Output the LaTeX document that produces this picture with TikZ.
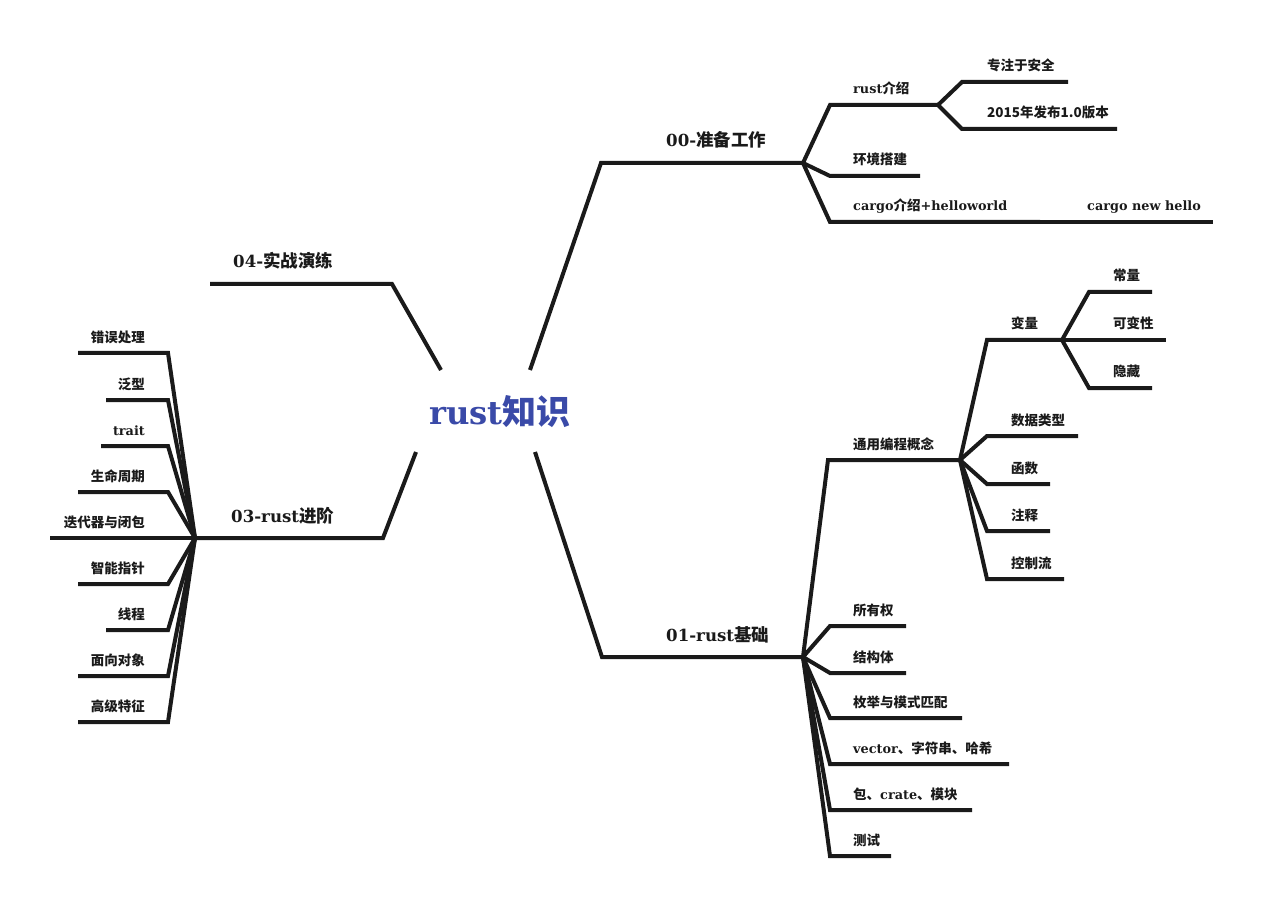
\documentclass[tikz,border=0pt]{standalone}
\usepackage{fontspec}
\setmainfont{Noto Sans CJK SC}
\newfontfamily\slab{DejaVu Serif}[Scale=0.95]
\definecolor{linec}{HTML}{1A1A1A}
\definecolor{rootc}{HTML}{3A4AA8}
\tikzset{
  br/.style={line width=4pt, draw=linec, line join=miter},
  lbl/.style={font=\fontsize{13.5}{16}\selectfont\bfseries, inner sep=0pt, text=linec},
  big/.style={font=\fontsize{17.5}{20}\selectfont\bfseries, inner sep=0pt, text=linec},
}
% #1 name, #2 parent, #3 knee, #4 end, #5 label anchor, #6 label pos, #7 style, #8 text
\newcommand\mmb[8]{%
  \coordinate (#1k) at (#3);
  \coordinate (#1) at (#4);
  \draw[br] (#2) -- (#1k) -- (#1);
  \node[#7, anchor=#5] (#1t) at (#6) {#8};}
\begin{document}
\begin{tikzpicture}[x=1pt,y=-1pt]
\useasboundingbox (0,0) rectangle (1264,909);
\node[font=\fontsize{34}{38}\selectfont\bfseries, text=rootc, inner sep=0pt] (root) at (500,412) {{\slab rust}知识};
\coordinate (s00) at (530,370);
\coordinate (s01) at (535,452);
\coordinate (s04) at (441,370);
\coordinate (s03) at (416,452);
% 00
\mmb{a}{s00}{601,163}{803,163}{base west}{666,147}{big}{{\slab 00-}准备工作}
\mmb{aa}{a}{830,105}{938,105}{base west}{853,94}{lbl}{{\slab rust}介绍}
\mmb{aaa}{aa}{962,82}{1068,82}{base west}{987,71}{lbl}{专注于安全}
\mmb{aab}{aa}{962,129}{1117,129}{base west}{987,118}{lbl}{2015年发布1.0版本}
\mmb{ab}{a}{830,176}{920,176}{base west}{853,165}{lbl}{环境搭建}
\mmb{ac}{a}{830,222}{1040,222}{base west}{853,211}{lbl}{{\slab cargo}介绍{\slab +helloworld}}
\mmb{aca}{ac}{1064,222}{1213,222}{base west}{1087,211}{lbl}{\slab cargo new hello}
% 01
\mmb{b}{s01}{602,657}{803,657}{base west}{666,641}{big}{{\slab 01-rust}基础}
\mmb{ba}{b}{828,460}{960,460}{base west}{853,449}{lbl}{通用编程概念}
\mmb{baa}{ba}{987,340}{1062,340}{base west}{1011,329}{lbl}{变量}
\mmb{baaa}{baa}{1089,292}{1152,292}{base west}{1113,281}{lbl}{常量}
\mmb{baab}{baa}{1089,340}{1166,340}{base west}{1113,329}{lbl}{可变性}
\mmb{baac}{baa}{1089,388}{1152,388}{base west}{1113,377}{lbl}{隐藏}
\mmb{bab}{ba}{987,436}{1078,436}{base west}{1011,425}{lbl}{数据类型}
\mmb{bac}{ba}{987,484}{1050,484}{base west}{1011,473}{lbl}{函数}
\mmb{bad}{ba}{987,531}{1050,531}{base west}{1011,520}{lbl}{注释}
\mmb{bae}{ba}{987,579}{1064,579}{base west}{1011,568}{lbl}{控制流}
\mmb{bb}{b}{830,626}{906,626}{base west}{853,615}{lbl}{所有权}
\mmb{bc}{b}{830,673}{906,673}{base west}{853,662}{lbl}{结构体}
\mmb{bd}{b}{830,718}{962,718}{base west}{853,707}{lbl}{枚举与模式匹配}
\mmb{be}{b}{830,764}{1009,764}{base west}{853,753}{lbl}{{\slab vector}、字符串、哈希}
\mmb{bf}{b}{830,810}{972,810}{base west}{853,799}{lbl}{包、{\slab crate}、模块}
\mmb{bg}{b}{830,856}{891,856}{base west}{853,845}{lbl}{测试}
% 04
\mmb{d}{s04}{392,284}{210,284}{base west}{233,268}{big}{{\slab 04-}实战演练}
% 03
\mmb{c}{s03}{383,538}{195,538}{base west}{231,522}{big}{{\slab 03-rust}进阶}
\mmb{ca}{c}{168,353}{78,353}{base east}{145,342}{lbl}{错误处理}
\mmb{cb}{c}{168,400}{106,400}{base east}{145,389}{lbl}{泛型}
\mmb{cc}{c}{168,446}{101,446}{base east}{145,435}{lbl}{\slab trait}
\mmb{cd}{c}{168,492}{78,492}{base east}{145,481}{lbl}{生命周期}
\mmb{ce}{c}{168,538}{50,538}{base east}{145,527}{lbl}{迭代器与闭包}
\mmb{cf}{c}{168,584}{78,584}{base east}{145,573}{lbl}{智能指针}
\mmb{cg}{c}{168,630}{106,630}{base east}{145,619}{lbl}{线程}
\mmb{ch}{c}{168,676}{78,676}{base east}{145,665}{lbl}{面向对象}
\mmb{ci}{c}{168,722}{78,722}{base east}{145,711}{lbl}{高级特征}
\end{tikzpicture}
\end{document}
